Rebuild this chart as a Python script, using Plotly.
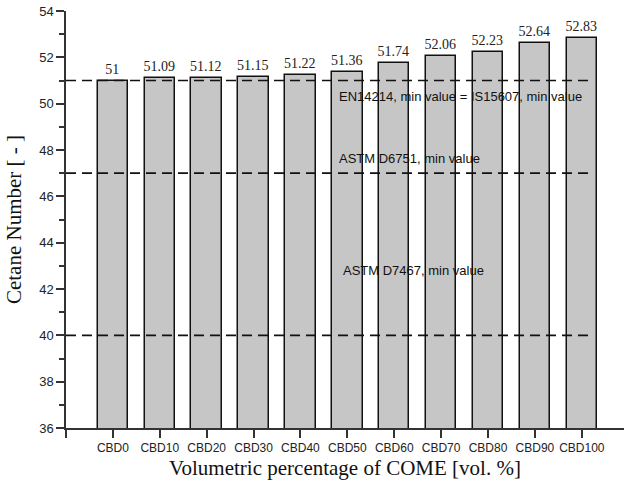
import plotly.graph_objects as go

# Cetane number of the diesel/COME blends
blends = ["CBD0", "CBD10", "CBD20", "CBD30", "CBD40", "CBD50",
          "CBD60", "CBD70", "CBD80", "CBD90", "CBD100"]
cetane = [51, 51.09, 51.12, 51.15, 51.22, 51.36, 51.74, 52.06, 52.23, 52.64, 52.83]

# Standard minimum limits and their captions
limit_values = [51, 47, 40]
limit_labels = ["EN14214, min value = IS15607, min value",
                "ASTM D6751, min value",
                "ASTM D7467, min value"]
limit_label_x = [4.78, 4.78, 4.86]
limit_label_y = [50.33, 47.65, 42.82]

positions = list(range(len(blends)))

sans = "Liberation Sans, Arial, sans-serif"
serif = "Liberation Serif, Times New Roman, serif"

fig = go.Figure()
fig.add_trace(go.Bar(
    x=positions,
    y=cetane,
    width=0.65,
    marker=dict(color="#c6c6c6", line=dict(color="#111111", width=1.5)),
    text=[f"{v:g}" for v in cetane],
    textposition="outside",
    constraintext="none",
    textfont=dict(family=serif, size=14, color="#222222"),
    cliponaxis=False,
    showlegend=False,
))

for v in limit_values:
    fig.add_shape(type="line", xref="x", yref="y",
                  x0=-1, x1=10.23, y0=v, y1=v,
                  line=dict(color="#111111", width=1.6, dash="10px,6px"))

for txt, lx, ly in zip(limit_labels, limit_label_x, limit_label_y):
    fig.add_annotation(x=lx, y=ly, xref="x", yref="y", text=txt,
                       showarrow=False, xanchor="left", yanchor="middle",
                       font=dict(family=sans, size=13, color="#111111"))

fig.update_layout(
    width=624, height=492,
    margin=dict(l=66, r=0, t=11, b=64),
    paper_bgcolor="white", plot_bgcolor="white",
    bargap=0,
    xaxis=dict(
        range=[-1, 10.9],
        tickmode="array",
        tickvals=[-1] + positions,
        ticktext=[""] + blends,
        tickangle=0,
        ticks="outside", ticklen=8, tickwidth=1.5, tickcolor="#333333",
        showline=True, linecolor="#333333", linewidth=1.5,
        showgrid=False, zeroline=False,
        tickfont=dict(family=sans, size=12, color="#222222"),
        title=dict(text="Volumetric percentage of COME [vol. %]",
                   font=dict(family=serif, size=21, color="#111111"),
                   standoff=6),
    ),
    yaxis=dict(
        range=[36, 54],
        tickvals=list(range(36, 55, 2)),
        ticks="outside", ticklen=8, tickwidth=1.5, tickcolor="#333333",
        minor=dict(tickvals=list(range(37, 54, 2)), ticks="outside",
                   ticklen=5, tickwidth=1.5, tickcolor="#333333"),
        showline=True, linecolor="#333333", linewidth=1.5,
        showgrid=False, zeroline=False,
        tickfont=dict(family=sans, size=13, color="#222222"),
        title=dict(text="Cetane Number [ - ]",
                   font=dict(family=serif, size=21, color="#111111"),
                   standoff=12),
    ),
)

fig.write_html("out.html")
